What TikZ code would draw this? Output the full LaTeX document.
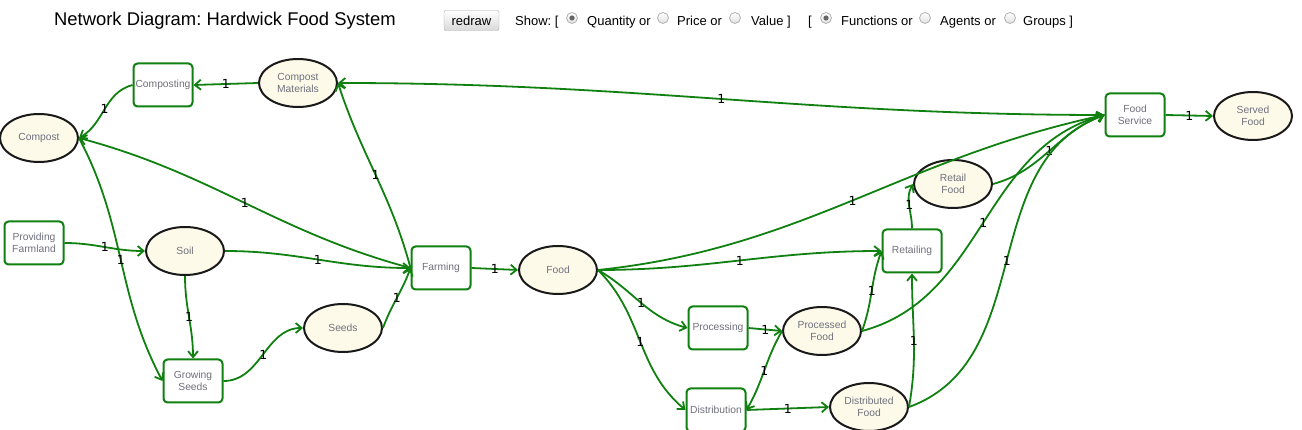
\documentclass[tikz,border=0pt]{standalone}
\usepackage{fontspec}
\setmainfont{Liberation Sans}
\newfontfamily\qtyfont{DejaVu Sans}
\usetikzlibrary{arrows.meta, positioning, shapes.geometric}
\frenchspacing

\definecolor{flowgreen}{RGB}{16,128,16}
\definecolor{goodfill}{RGB}{253,250,234}
\definecolor{namegray}{RGB}{112,112,124}
\definecolor{btnline}{RGB}{165,165,165}
\definecolor{radioline}{RGB}{178,178,178}

\begin{document}
\begin{tikzpicture}[x=1pt, y=-1pt,
    >={Straight Barb[length=6pt, width=10pt]},
    func/.style={draw=flowgreen, line width=2pt, rounded corners=4pt, fill=white,
        minimum width=59pt, minimum height=43pt, inner sep=0pt, align=center,
        text=namegray, font=\fontsize{10.3}{12.3}\selectfont},
    good/.style={ellipse, draw=black!90, line width=2pt, fill=goodfill,
        minimum width=78pt, minimum height=48pt, inner sep=0pt, align=center,
        text=namegray, font=\fontsize{10.3}{12.3}\selectfont},
    flow/.style={->, draw=flowgreen, line width=1.8pt},
    qty/.style={font=\qtyfont\fontsize{12.5}{12.5}\selectfont, inner sep=0pt},
    ctrl/.style={anchor=base west, inner sep=0pt, font=\fontsize{13}{15}\selectfont},
    radio/.style={circle, draw=radioline, line width=0.8pt, top color=white,
        bottom color=black!12, minimum size=11pt, inner sep=0pt}]
    \useasboundingbox (0,0) rectangle (1302,430);

    % Header
    \node[anchor=base west, inner sep=0pt, font=\fontsize{18.4}{20}\selectfont]
        (title) at (54,26) {Network Diagram: Hardwick Food System};
    \node[draw=btnline, rounded corners=2pt, top color=white, bottom color=black!15,
        minimum width=55pt, minimum height=20pt, inner sep=0pt,
        font=\fontsize{13}{15}\selectfont] (redraw) at (471.5,20.5) {redraw};
    \node[ctrl] (show) at (515,25.5) {Show: [};
    \foreach \x/\n in {572/rquant, 663/rprice, 735/rvalue, 826/rfunc, 925/ragent, 1010/rgroup}
        \node[radio] (\n) at (\x,18) {};
    \fill[black!60] (rquant) circle (2.6pt);
    \fill[black!60] (rfunc) circle (2.6pt);
    \node[ctrl] (quant) at (587,25.5) {Quantity or};
    \node[ctrl] (price) at (677,25.5) {Price or};
    \node[ctrl] (value) at (751,25.5) {Value ]};
    \node[ctrl] (open) at (808,25.5) {[};
    \node[ctrl] (funcs) at (841,25.5) {Functions or};
    \node[ctrl] (agents) at (940,25.5) {Agents or};
    \node[ctrl] (groups) at (1023,25.5) {Groups ]};

    % Functions
    \node[func] (cmpg) at (163,85) {Composting};
    \node[func] (farmland) at (34,243) {Providing\\Farmland};
    \node[func] (grow) at (193,381) {Growing\\Seeds};
    \node[func] (farm) at (441,268) {Farming};
    \node[func] (proc) at (718,328) {Processing};
    \node[func] (dist) at (716,410) {Distribution};
    \node[func] (retail) at (912,251) {Retailing};
    \node[func] (fsvc) at (1135,115) {Food\\Service};

    % Goods
    \node[good] (cmat) at (298,83) {Compost\\Materials};
    \node[good] (compost) at (39,138) {Compost};
    \node[good] (soil) at (185,251) {Soil};
    \node[good] (seeds) at (343,328) {Seeds};
    \node[good] (food) at (558,270) {Food};
    \node[good] (pfood) at (822,331) {Processed\\Food};
    \node[good] (dfood) at (869,407) {Distributed\\Food};
    \node[good] (rfood) at (953,184) {Retail\\Food};
    \node[good] (served) at (1253,116) {Served\\Food};

    % Flows
    \draw[flow] (cmat.west) -- node[qty] {1} (cmpg.east);
    \draw[flow] (cmpg.west) to[out=195, in=30] node[qty] {1} (compost.east);
    \draw[flow] (farm.west) to[out=165, in=-15] node[qty] {1} (compost.east);
    \draw[flow] (farm.west) to[out=105, in=-72] node[qty] {1} (cmat.east);
    \draw[flow] (fsvc.west) to[out=180, in=0] node[qty] {1} (cmat.east);
    \draw[flow] (farmland.east) to[out=0, in=180] node[qty] {1} (soil.west);
    \draw[flow] (compost.east) to[out=-62, in=118] node[qty] {1} (grow.west);
    \draw[flow] (soil.east) to[out=0, in=180] node[qty] {1} (farm.west);
    \draw[flow] (soil.south) to[out=-90, in=90] node[qty] {1} (grow.north);
    \draw[flow] (grow.east) to[out=0, in=180] node[qty] {1} (seeds.west);
    \draw[flow] (seeds.east) to[out=70, in=-110] node[qty] {1} (farm.west);
    \draw[flow] (farm.east) -- node[qty] {1} (food.west);
    \draw[flow] (food.east) to[out=6, in=192] node[qty] {1} (fsvc.west);
    \draw[flow] (food.east) to[out=0, in=180] node[qty] {1} (retail.west);
    \draw[flow] (food.east) to[out=-30, in=165] node[qty] {1} (proc.west);
    \draw[flow] (food.east) to[out=-45, in=140] node[qty] {1} (dist.west);
    \draw[flow] (proc.east) -- node[qty] {1} (pfood.west);
    \draw[flow] (pfood.west) to[out=240, in=60] node[qty] {1} (dist.east);
    \draw[flow] (dist.east) -- node[qty] {1} (dfood.west);
    \draw[flow] (pfood.east) to[out=70, in=-110] node[qty] {1} (retail.west);
    \draw[flow] (dfood.east) to[out=80, in=-90] node[qty] {1} (retail.south);
    \draw[flow] (retail.north) to[out=90, in=-120] node[qty] {1} (rfood.west);
    \draw[flow] (rfood.east) to[out=15, in=200] node[qty] {1} (fsvc.west);
    \draw[flow] (pfood.east) to[out=15, in=195] node[qty] {1} (fsvc.west);
    \draw[flow] (dfood.east) to[out=20, in=200] node[qty] {1} (fsvc.west);
    \draw[flow] (fsvc.east) -- node[qty] {1} (served.west);
\end{tikzpicture}
\end{document}
